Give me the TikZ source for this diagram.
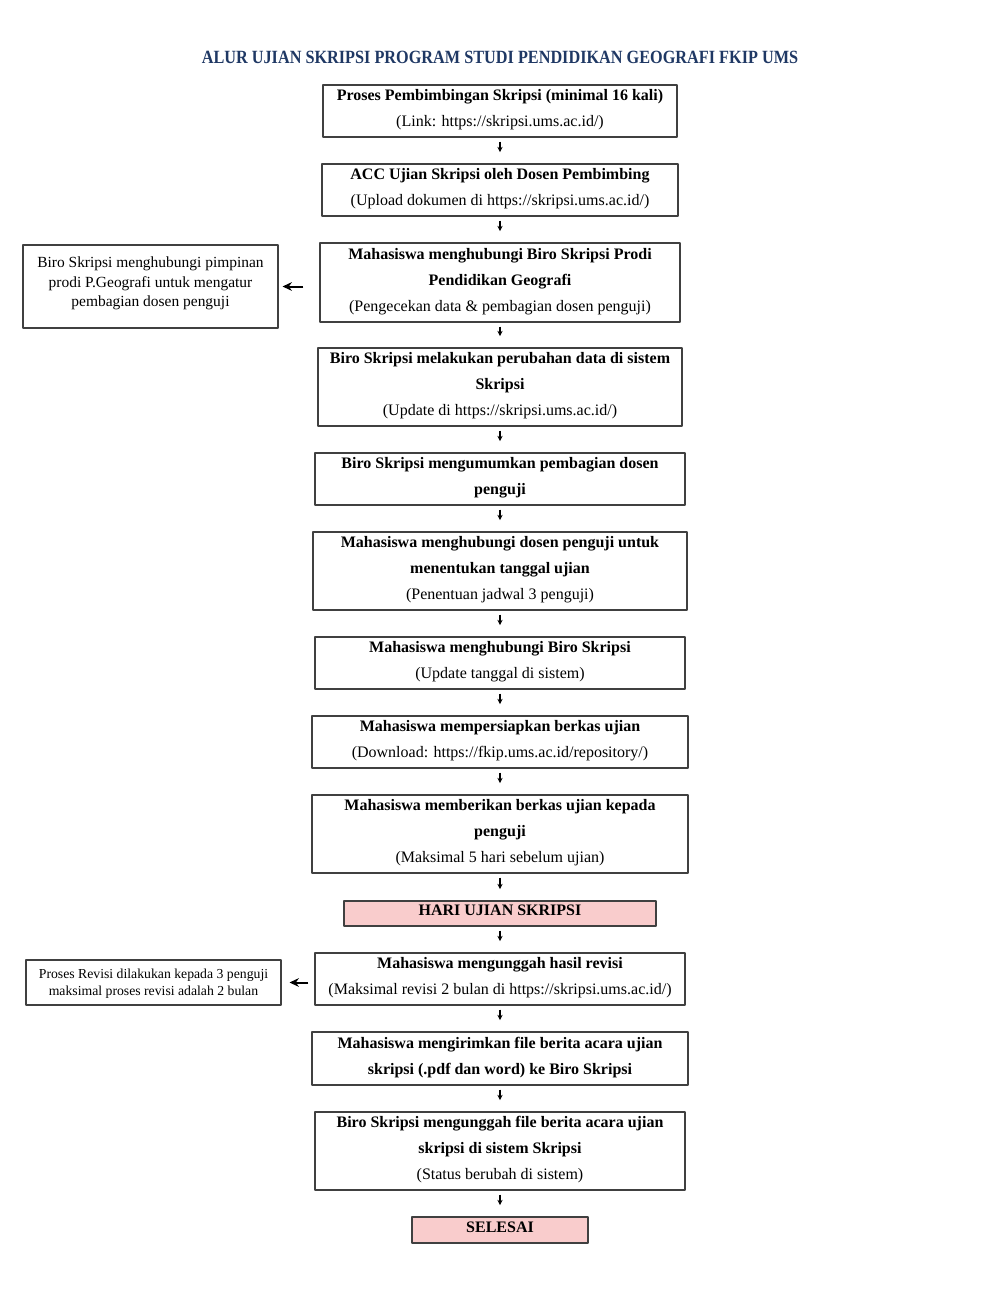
\documentclass[tikz,border=0pt]{standalone}
\usepackage{fontspec}
\usetikzlibrary{arrows.meta}
\setmainfont{Liberation Serif}
\newfontfamily\titlefont[FakeStretch=0.87]{Liberation Serif}
\definecolor{navy}{RGB}{31,56,100}
\definecolor{pinkfill}{RGB}{249,204,204}
\begin{document}
\begin{tikzpicture}[x=0.75pt,y=-0.75pt,line join=round,>={Stealth[length=4pt,width=4pt]},
		font=\fontsize{12}{19.5}\selectfont,
		box/.style 2 args={draw=black!75,line width=0.8pt,minimum width=#1*0.75pt,
			minimum height=#2*0.75pt,inner sep=0pt,align=center,text depth=4.5pt},
		side/.style 2 args={box={#1}{#2},text depth=7pt,font=\fontsize{11.6}{14.6}\selectfont},
		down/.style={->,line width=0.9pt,shorten <=3pt,shorten >=8.5pt},
		left/.style={-{Stealth[length=7pt,width=6.5pt]},line width=1.5pt,shorten <=12pt,shorten >=3pt}]
	\useasboundingbox (0,0) rectangle (1000,1293);
	\node[font=\titlefont\fontsize{14}{16}\selectfont\bfseries,text=navy] (title) at (500,57)
		{ALUR UJIAN SKRIPSI PROGRAM STUDI PENDIDIKAN GEOGRAFI FKIP UMS};
	\node[box={354}{52}] (b1) at (500,111) {\textbf{Proses Pembimbingan Skripsi (minimal 16 kali)}\\(Link: https://skripsi.ums.ac.id/)};
	\node[box={356}{52}] (b2) at (500,190) {\textbf{ACC Ujian Skripsi oleh Dosen Pembimbing}\\(Upload dokumen di https://skripsi.ums.ac.id/)};
	\node[box={360}{79}] (b3) at (500,282.5) {\textbf{Mahasiswa menghubungi Biro Skripsi Prodi}\\\textbf{Pendidikan Geografi}\\(Pengecekan data \& pembagian dosen penguji)};
	\node[box={364}{78}] (b4) at (500,387) {\textbf{Biro Skripsi melakukan perubahan data di sistem}\\\textbf{Skripsi}\\(Update di https://skripsi.ums.ac.id/)};
	\node[box={370}{52}] (b5) at (500,479) {\textbf{Biro Skripsi mengumumkan pembagian dosen}\\\textbf{penguji}};
	\node[box={374}{78}] (b6) at (500,571) {\textbf{Mahasiswa menghubungi dosen penguji untuk}\\\textbf{menentukan tanggal ujian}\\(Penentuan jadwal 3 penguji)};
	\node[box={370}{52}] (b7) at (500,663) {\textbf{Mahasiswa menghubungi Biro Skripsi}\\(Update tanggal di sistem)};
	\node[box={376}{52}] (b8) at (500,742) {\textbf{Mahasiswa mempersiapkan berkas ujian}\\(Download: https://fkip.ums.ac.id/repository/)};
	\node[box={376}{78}] (b9) at (500,834) {\textbf{Mahasiswa memberikan berkas ujian kepada}\\\textbf{penguji}\\(Maksimal 5 hari sebelum ujian)};
	\node[box={312}{25},fill=pinkfill] (b10) at (500,913.5) {\textbf{HARI UJIAN SKRIPSI}};
	\node[box={370}{52}] (b11) at (500,979) {\textbf{Mahasiswa mengunggah hasil revisi}\\(Maksimal revisi 2 bulan di https://skripsi.ums.ac.id/)};
	\node[box={376}{53}] (b12) at (500,1058.5) {\textbf{Mahasiswa mengirimkan file berita acara ujian}\\\textbf{skripsi (.pdf dan word) ke Biro Skripsi}};
	\node[box={370}{78}] (b13) at (500,1151) {\textbf{Biro Skripsi mengunggah file berita acara ujian}\\\textbf{skripsi di sistem Skripsi}\\(Status berubah di sistem)};
	\node[box={176}{26},fill=pinkfill] (b14) at (500,1230) {\textbf{SELESAI}};
	\node[side={255}{83}] (s1) at (150.5,286.5) {Biro Skripsi menghubungi pimpinan\\prodi P.Geografi untuk mengatur\\pembagian dosen penguji};
	\node[side={255}{45},text depth=-3pt,font=\fontsize{10.3}{12.75}\selectfont] (s2) at (153.5,982.5) {Proses Revisi dilakukan kepada 3 penguji\\maksimal proses revisi adalah 2 bulan};
	\foreach \a/\b in {b1/b2,b2/b3,b3/b4,b4/b5,b5/b6,b6/b7,b7/b8,b8/b9,b9/b10,b10/b11,b11/b12,b12/b13,b13/b14}
		\draw[down] (\a.south) -- (\b.north);
	\draw[left] (b3.west |- s1.east) -- (s1.east);
	\draw[left,shorten <=4.5pt,shorten >=6pt] (b11.west |- s2.east) -- (s2.east);
\end{tikzpicture}
\end{document}
